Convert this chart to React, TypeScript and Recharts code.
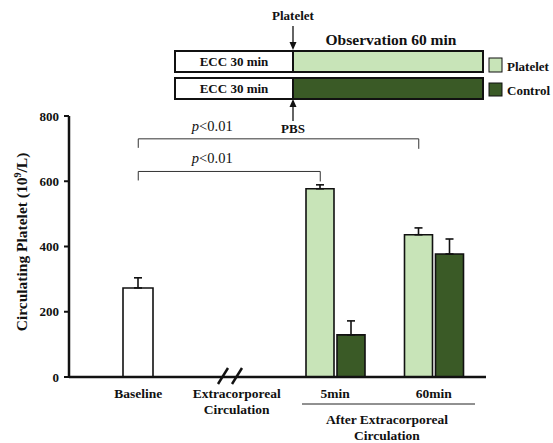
import React from "react";
import { Bar, BarChart, ErrorBar, ReferenceLine, XAxis, YAxis } from "recharts";

const categories = ["Baseline", "Extracorporeal\nCirculation", "5min", "60min"];
const baselineValues = [273, null, null, null];
const baselineErrors = [31, null, null, null];
const plateletValues = [null, null, 577, 436];
const plateletErrors = [null, null, 12, 21];
const controlValues = [null, null, 129, 377];
const controlErrors = [null, null, 43, 46];
const yTicks = [0, 200, 400, 600, 800];

const LIGHT = "#c8e4b8";
const DARK = "#3a5a26";
const SERIF = "Liberation Serif, serif";
const txt = { fontFamily: SERIF, fontWeight: "bold" as const };

const data = categories.map((name, i) => ({
  name,
  baseline: baselineValues[i],
  baselineErr: baselineErrors[i] == null ? undefined : [0, baselineErrors[i]],
  platelet: plateletValues[i],
  plateletErr: plateletErrors[i] == null ? undefined : [0, plateletErrors[i]],
  control: controlValues[i],
  controlErr: controlErrors[i] == null ? undefined : [0, controlErrors[i]]
}));

function XTick({ x, y, payload }: any) {
  const lines = String(payload.value).split("\n");
  return (
    <text x={x} y={y} textAnchor="middle" style={{ ...txt, fontSize: 13.5 }} fill="#111">
      {lines.map((l, i) => (
        <tspan key={i} x={x} dy={i === 0 ? 21 : 16}>
          {l}
        </tspan>
      ))}
    </text>
  );
}

// bracket with downward ends; right end sits over the platelet bar
function bracket(drop: number) {
  return (props: any) => {
    const { x1, y1, x2 } = props;
    const xr = x2 - 15;
    return (
      <g>
        <path
          d={`M${x1},${y1 + 9} V${y1} H${xr} V${y1 + drop}`}
          fill="none"
          stroke="#333"
          strokeWidth={1}
        />
        <text x={x1 + 74} y={y1 - 8} textAnchor="middle" style={{ fontFamily: SERIF, fontSize: 14.5 }} fill="#111">
          <tspan fontStyle="italic">p</tspan>&lt;0.01
        </text>
      </g>
    );
  };
}

function Overlay() {
  return (
    <svg width={553} height={443} style={{ position: "absolute", left: 0, top: 0, pointerEvents: "none" }}>
      <g style={txt} fill="#111">
        {/* schematic */}
        <text x={293} y={20} textAnchor="middle" fontSize={13}>Platelet</text>
        <line x1={293} y1={26} x2={293} y2={47} stroke="#111" strokeWidth={1.3} />
        <path d="M289.5,42 L293,50 L296.5,42 Z" />
        <text x={391} y={45} textAnchor="middle" fontSize={15.5}>Observation 60 min</text>
        <rect x={175} y={51} width={118} height={21} fill="#fff" stroke="#111" strokeWidth={2} />
        <rect x={293} y={51} width={190} height={21} fill={LIGHT} stroke="#111" strokeWidth={2} />
        <text x={234} y={66} textAnchor="middle" fontSize={13}>ECC 30 min</text>
        <rect x={175} y={78} width={118} height={21} fill="#fff" stroke="#111" strokeWidth={2} />
        <rect x={293} y={78} width={190} height={21} fill={DARK} stroke="#111" strokeWidth={2} />
        <text x={234} y={93} textAnchor="middle" fontSize={13}>ECC 30 min</text>
        <line x1={293} y1={101} x2={293} y2={121} stroke="#111" strokeWidth={1.3} />
        <path d="M289.5,107 L293,99 L296.5,107 Z" />
        <text x={293} y={133} textAnchor="middle" fontSize={13}>PBS</text>
        {/* legend */}
        <rect x={489} y={58} width={13} height={14} fill={LIGHT} stroke="#111" strokeWidth={1} />
        <text x={507} y={71} fontSize={13}>Platelet</text>
        <rect x={489} y={83} width={13} height={13} fill={DARK} stroke="#111" strokeWidth={1} />
        <text x={507} y={95} fontSize={13}>Control</text>
        {/* y label */}
        <text transform="translate(27,242) rotate(-90)" textAnchor="middle" fontSize={15.5}>
          Circulating Platelet (10<tspan fontSize={10} dy={-6}>9</tspan><tspan dy={6}>/L)</tspan>
        </text>
        {/* axis break */}
        <line x1={218} y1={384} x2={228} y2={368} stroke="#111" strokeWidth={2.5} />
        <line x1={232} y1={384} x2={242} y2={368} stroke="#111" strokeWidth={2.5} />
        {/* group label */}
        <line x1={302} y1={404} x2={475} y2={404} stroke="#222" strokeWidth={1} />
        <text x={387} y={424} textAnchor="middle" fontSize={13.5}>After Extracorporeal</text>
        <text x={387} y={440} textAnchor="middle" fontSize={13.5}>Circulation</text>
      </g>
    </svg>
  );
}

export default function App() {
  return (
    <div style={{ position: "absolute", left: 0, top: 0, width: 553, height: 443, background: "#fff" }}>
      <BarChart
        width={553}
        height={443}
        data={data}
        margin={{ top: 116, right: 67, bottom: 6, left: 0 }}
        barGap={3}
      >
        <XAxis
          xAxisId="main"
          dataKey="name"
          height={60}
          padding={{ left: 20, right: 3 }}
          tickLine={false}
          tickSize={0}
          tickMargin={0}
          tick={<XTick />}
          interval={0}
          axisLine={{ stroke: "#111", strokeWidth: 2.5 }}
        />
        <XAxis xAxisId="base" dataKey="name" hide height={0} padding={{ left: 20, right: 3 }} />
        <YAxis
          width={69}
          domain={[0, 800]}
          ticks={yTicks}
          tickSize={5}
          tickMargin={5}
          axisLine={{ stroke: "#111", strokeWidth: 2.5 }}
          tickLine={{ stroke: "#111", strokeWidth: 2 }}
          tick={{ fontFamily: SERIF, fontWeight: "bold", fontSize: 13, fill: "#111" }}
        />
        <ReferenceLine
          xAxisId="main"
          segment={[
            { x: categories[0], y: 730 },
            { x: categories[3], y: 730 }
          ]}
          shape={bracket(10)}
        />
        <ReferenceLine
          xAxisId="main"
          segment={[
            { x: categories[0], y: 630 },
            { x: categories[2], y: 630 }
          ]}
          shape={bracket(10)}
        />
        <Bar xAxisId="base" dataKey="baseline" barSize={30} fill="#fff" stroke="#111" strokeWidth={1.6} isAnimationActive={false}>
          <ErrorBar dataKey="baselineErr" direction="y" width={4} stroke="#111" strokeWidth={1.6} />
        </Bar>
        <Bar xAxisId="main" dataKey="platelet" barSize={28} fill={LIGHT} stroke="#111" strokeWidth={1.6} isAnimationActive={false}>
          <ErrorBar dataKey="plateletErr" direction="y" width={4} stroke="#111" strokeWidth={1.6} />
        </Bar>
        <Bar xAxisId="main" dataKey="control" barSize={28} fill={DARK} stroke="#111" strokeWidth={1.6} isAnimationActive={false}>
          <ErrorBar dataKey="controlErr" direction="y" width={4} stroke="#111" strokeWidth={1.6} />
        </Bar>
      </BarChart>
      <Overlay />
    </div>
  );
}
